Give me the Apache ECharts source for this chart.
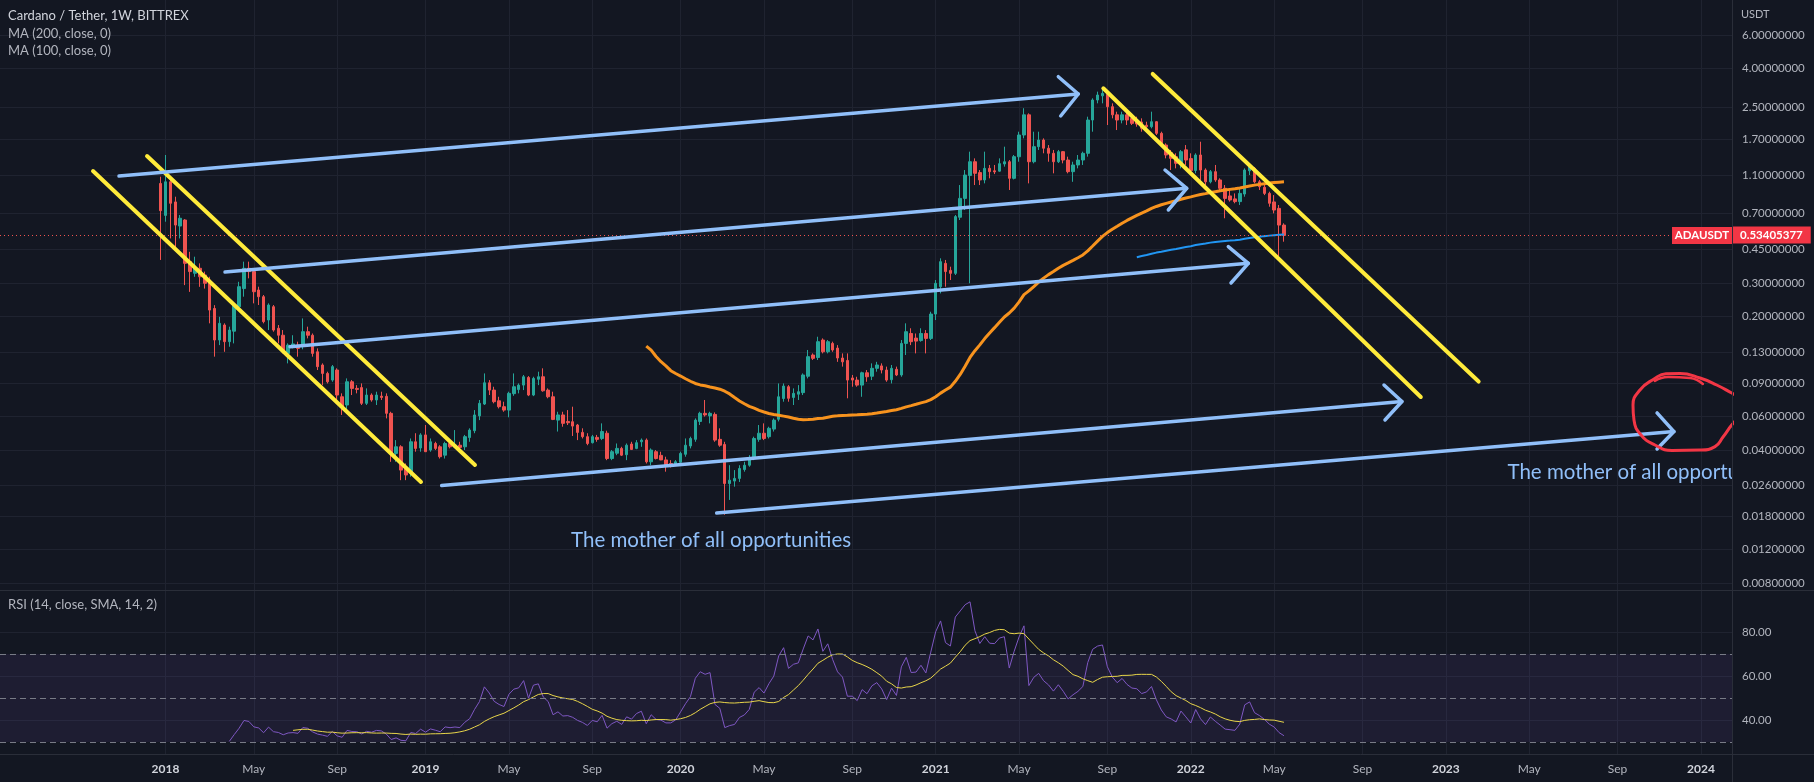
<!DOCTYPE html>
<html><head><meta charset="utf-8">
<script src="https://cdn.jsdelivr.net/npm/echarts@6/dist/echarts.min.js"></script>
<style>html,body{margin:0;padding:0;background:#131722;overflow:hidden}#c{width:1814px;height:782px}</style>
</head><body><div id="c"></div>
<script>
// Weekly bars: index 0 = week of 2017-12-25 (week offset -1 from 2018-01-01)
const firstWeekOffset = -1;
const opens = [1.00,0.68,1.02,0.80,0.598,0.643,0.389,0.338,0.359,0.331,0.3116,0.221,0.151,0.181,0.148,0.168,0.2257,0.281,0.359,0.345,0.2762,0.2548,0.1922,0.2257,0.174,0.160,0.1285,0.1392,0.142,0.140,0.167,0.160,0.131,0.1117,0.1009,0.0931,0.1051,0.0761,0.0689,0.0912,0.0842,0.085,0.0703,0.0777,0.0732,0.0767,0.0765,0.0623,0.0384,0.0416,0.032,0.0302,0.0442,0.041,0.048,0.040,0.0433,0.0416,0.0376,0.0433,0.0416,0.0424,0.0416,0.0465,0.0505,0.0604,0.0697,0.0901,0.0825,0.0725,0.0675,0.0648,0.079,0.083,0.0876,0.0961,0.0777,0.094,0.0969,0.0825,0.0761,0.0574,0.0611,0.0565,0.0563,0.0541,0.0495,0.0470,0.0437,0.0466,0.046,0.049,0.0361,0.0385,0.0408,0.0378,0.0430,0.0408,0.0442,0.0451,0.0347,0.0392,0.0375,0.0355,0.0340,0.0333,0.0345,0.0380,0.0420,0.0455,0.0565,0.0623,0.0604,0.0615,0.0455,0.0428,0.0267,0.0275,0.0284,0.0316,0.0333,0.0361,0.0455,0.049,0.047,0.0515,0.058,0.0745,0.0859,0.0755,0.0785,0.0800,0.0975,0.126,0.1222,0.151,0.131,0.145,0.137,0.1215,0.118,0.0955,0.0931,0.0876,0.1017,0.0975,0.1073,0.1105,0.1051,0.0935,0.106,0.099,0.145,0.1634,0.1545,0.150,0.1634,0.154,0.2066,0.2874,0.381,0.350,0.3377,0.665,0.835,1.100,1.30,1.14,1.043,1.20,1.165,1.16,1.265,1.30,1.064,1.38,1.795,2.29,1.30,1.559,1.690,1.53,1.439,1.30,1.468,1.327,1.153,1.25,1.327,1.439,2.151,2.739,2.88,2.93,2.527,2.29,2.151,2.29,2.19,2.12,2.10,2.02,1.984,2.108,1.831,1.59,1.45,1.38,1.26,1.50,1.35,1.17,1.41,1.176,1.02,1.153,1.043,0.943,0.86,0.83,0.803,0.88,1.165,1.20,1.02,0.955,0.887,0.80,0.74,0.605];
const highs = [1.085,1.41,1.085,0.852,0.683,0.65,0.438,0.413,0.381,0.345,0.3243,0.230,0.1999,0.1847,0.1774,0.2351,0.305,0.389,0.389,0.352,0.2874,0.260,0.2351,0.2304,0.181,0.1703,0.145,0.160,0.148,0.196,0.1774,0.1634,0.1365,0.1139,0.103,0.1117,0.1073,0.0793,0.095,0.0931,0.0876,0.0894,0.0842,0.0793,0.0809,0.0809,0.0793,0.0635,0.0451,0.0424,0.034,0.046,0.049,0.049,0.0541,0.046,0.0442,0.0424,0.0442,0.0442,0.0509,0.0442,0.048,0.052,0.0648,0.0732,0.1009,0.0931,0.0859,0.0761,0.0717,0.0809,0.1009,0.0894,0.099,0.0977,0.0969,0.103,0.1073,0.0842,0.0809,0.0635,0.0635,0.0648,0.0675,0.0548,0.052,0.049,0.048,0.048,0.0552,0.0505,0.0400,0.0433,0.0416,0.0433,0.0442,0.0451,0.046,0.046,0.0408,0.0400,0.0392,0.0369,0.0354,0.0354,0.0392,0.046,0.047,0.0586,0.0635,0.0732,0.0635,0.063,0.052,0.0442,0.0333,0.0314,0.0333,0.0347,0.0376,0.047,0.0541,0.0552,0.053,0.0586,0.0894,0.0894,0.0876,0.0842,0.0876,0.1009,0.1339,0.1285,0.1571,0.154,0.151,0.148,0.142,0.1285,0.1285,0.099,0.0969,0.103,0.1051,0.1139,0.116,0.1139,0.1095,0.1117,0.1095,0.151,0.1847,0.174,0.1634,0.174,0.1703,0.2125,0.3116,0.405,0.397,0.366,0.683,0.981,1.176,1.468,1.354,1.176,1.468,1.25,1.25,1.354,1.559,1.327,1.41,1.868,2.48,2.331,1.868,1.868,1.724,1.59,1.498,1.498,1.48,1.382,1.30,1.41,1.468,2.239,2.795,3.03,3.09,2.97,2.631,2.379,2.379,2.379,2.331,2.239,2.195,2.108,2.379,2.12,1.868,1.623,1.498,1.439,1.498,1.59,1.439,1.439,1.655,1.20,1.176,1.25,1.064,0.981,0.943,0.887,0.943,1.20,1.25,1.22,1.043,0.981,0.905,0.869,0.771,0.618];
const lows = [0.397,0.63,0.515,0.447,0.515,0.293,0.270,0.324,0.287,0.281,0.1847,0.1235,0.142,0.131,0.1392,0.145,0.221,0.2548,0.318,0.2351,0.2304,0.1847,0.1703,0.167,0.145,0.1285,0.1139,0.1365,0.1235,0.135,0.154,0.1235,0.1051,0.0876,0.0894,0.0912,0.0732,0.0611,0.0623,0.0777,0.0793,0.0689,0.0689,0.0717,0.0689,0.0732,0.0586,0.0347,0.0347,0.0278,0.0278,0.029,0.0392,0.0392,0.0392,0.0392,0.0400,0.0361,0.0361,0.0408,0.041,0.0400,0.0400,0.0442,0.049,0.0574,0.0689,0.0777,0.0703,0.0661,0.0635,0.0594,0.077,0.0793,0.0825,0.0767,0.0767,0.0876,0.0809,0.0747,0.0574,0.0500,0.0530,0.0541,0.0474,0.0451,0.046,0.0424,0.0433,0.0442,0.0451,0.0354,0.0354,0.0376,0.0372,0.0354,0.0400,0.0404,0.0416,0.0340,0.0333,0.0357,0.0354,0.0308,0.0324,0.0330,0.0340,0.0369,0.0408,0.0442,0.0541,0.0599,0.0552,0.0442,0.0416,0.0183,0.0219,0.0257,0.0272,0.0308,0.0327,0.0354,0.0442,0.0451,0.046,0.0500,0.0565,0.0717,0.0717,0.0689,0.0732,0.0777,0.095,0.1186,0.1186,0.1285,0.1285,0.131,0.116,0.1095,0.0747,0.0859,0.0859,0.0761,0.0912,0.0931,0.103,0.1009,0.0912,0.0894,0.0977,0.0969,0.126,0.142,0.1285,0.148,0.1285,0.151,0.1922,0.2651,0.2874,0.3116,0.331,0.643,0.7255,0.2995,0.981,0.981,1.001,1.064,1.12,1.153,1.225,0.924,1.05,1.30,1.724,1.001,1.275,1.498,1.439,1.30,1.130,1.28,1.275,1.130,1.02,1.20,1.25,1.382,1.868,2.631,2.631,2.025,2.195,1.906,2.066,2.025,2.025,1.984,1.868,1.92,1.945,1.795,1.559,1.354,1.176,1.20,1.20,1.25,1.13,1.130,1.043,0.981,1.001,1.02,0.905,0.657,0.803,0.787,0.771,0.852,1.107,1.001,0.924,0.869,0.755,0.697,0.413,0.495];
const closes = [0.72,1.02,0.787,0.605,0.657,0.381,0.345,0.359,0.324,0.2995,0.2168,0.151,0.1847,0.148,0.1703,0.230,0.2874,0.359,0.345,0.2706,0.2548,0.1885,0.2304,0.1703,0.160,0.131,0.142,0.144,0.1365,0.167,0.160,0.1285,0.1095,0.1009,0.0912,0.1095,0.0777,0.0675,0.0912,0.0842,0.0832,0.0703,0.0777,0.0732,0.0777,0.0755,0.0623,0.0384,0.0416,0.0314,0.0296,0.0442,0.0408,0.048,0.0392,0.0442,0.0408,0.0369,0.0433,0.0416,0.0424,0.0413,0.0470,0.0509,0.0611,0.0703,0.0901,0.0825,0.0717,0.0675,0.0648,0.0793,0.0859,0.0876,0.0969,0.0777,0.095,0.0969,0.0818,0.0761,0.0579,0.0611,0.0552,0.0556,0.0534,0.0495,0.0470,0.0433,0.0470,0.0455,0.0500,0.0361,0.0392,0.0408,0.0376,0.0424,0.0403,0.0437,0.0451,0.0347,0.0400,0.0361,0.0355,0.0333,0.0333,0.0347,0.0384,0.0424,0.046,0.0574,0.0623,0.0611,0.0623,0.0451,0.0424,0.0267,0.0278,0.0284,0.032,0.0333,0.0361,0.046,0.049,0.046,0.052,0.0574,0.0761,0.0866,0.0747,0.0793,0.0809,0.099,0.1235,0.121,0.148,0.131,0.148,0.1339,0.1215,0.116,0.0931,0.0931,0.0876,0.1017,0.0969,0.1073,0.1117,0.1051,0.0931,0.1073,0.099,0.145,0.167,0.148,0.149,0.1634,0.154,0.2066,0.2995,0.389,0.345,0.3377,0.670,0.835,1.107,1.30,1.130,1.043,1.20,1.153,1.15,1.27,1.30,1.064,1.382,1.795,2.29,1.30,1.559,1.690,1.53,1.439,1.30,1.468,1.327,1.153,1.25,1.327,1.439,2.151,2.739,2.91,2.968,2.527,2.29,2.151,2.29,2.151,2.066,2.05,1.945,1.984,2.108,1.831,1.59,1.41,1.354,1.275,1.468,1.327,1.17,1.41,1.176,1.02,1.153,1.043,0.943,0.835,0.819,0.803,0.887,1.176,1.225,1.02,0.962,0.887,0.787,0.7255,0.605,0.53405377];

// axis ticks
const timeTickWeeks = [0,18,35,53,70,87,105,122,140,157,174,192,209,226,244,261,278,296,313];
const timeTickLabels = ['2018','May','Sep','2019','May','Sep','2020','May','Sep','2021','May','Sep','2022','May','Sep','2023','May','Sep','2024'];
const priceTicks = [6,4,2.5,1.7,1.1,0.7,0.45,0.3,0.2,0.13,0.09,0.06,0.04,0.026,0.018,0.012,0.008];
const rsiTicks = [40,60,80];
const rsiLevels = [70,50,30];

// drawings: [weekOffset, price]
const yellowLines = [
  [[-3.77,1.393],[63.09,0.0334]],
  [[-14.78,1.162],[52.08,0.0272]],
  [[201.24,3.75],[267.68,0.0915]],
  [[191.17,3.155],[255.89,0.0759]]
];
const blueLines = [
  [[-9.48,1.094],[186.07,2.945]],
  [[12.13,0.3433],[208.17,0.943]],
  [[25.38,0.1393],[220.73,0.3814]],
  [[56.30,0.02607],[252.05,0.0719]],
  [[112.36,0.0187],[307.5,0.050]]
];
const blueArrowHeads = [
  [[182.0,3.628],[186.07,2.945],[182.48,2.258]],
  [[203.75,1.176],[208.17,0.943],[204.42,0.7257]],
  [[216.65,0.466],[220.73,0.3814],[217.2,0.3006]],
  [[248.39,0.0877],[252.05,0.0719],[248.59,0.0575]],
  [[304.05,0.0626],[307.5,0.050],[304.05,0.0405]]
];
const redStroke = [[322,0.073],[319.27,0.0796],[316.21,0.0877],[312.81,0.0954],[308.73,0.1008],[305.87,0.1006],[303.43,0.0943],[300.57,0.0826],[299.15,0.0689],[299.35,0.0575],[300.78,0.048],[303.63,0.0425],[307.10,0.0398],[312.81,0.0400],[315.87,0.0417],[317.5,0.0468],[319.27,0.0541],[322,0.0649]];
const redHook = [[303.6,0.0921],[306.3,0.0966],[310.8,0.0954],[313.4,0.0888]];
const textNotes = [
  {text:'The mother of all opportunities', at:[82.66,0.0135]},
  {text:'The mother of all opportunities', at:[273.56,0.0307]}
];

const W0 = -33.74, W1 = 319.33;
const LMIN = -2.1319, LMAX = 0.962;
const L = v => Math.log10(v);
const weeks = closes.map((_, i) => i + firstWeekOffset);

function sma(arr, n) {
  const out = [];
  for (let i = n - 1; i < arr.length; i++) {
    let s = 0; for (let j = i - n + 1; j <= i; j++) s += arr[j];
    out.push([i, s / n]);
  }
  return out;
}
function rsi(cl, n) {
  const out = [];
  let ag = 0, al = 0;
  for (let i = 1; i <= n; i++) { const d = cl[i] - cl[i-1]; ag += Math.max(d,0); al += Math.max(-d,0); }
  ag /= n; al /= n;
  out.push([n, al === 0 ? 100 : 100 - 100/(1+ag/al)]);
  for (let i = n+1; i < cl.length; i++) {
    const d = cl[i] - cl[i-1];
    ag = (ag*(n-1) + Math.max(d,0))/n; al = (al*(n-1) + Math.max(-d,0))/n;
    out.push([i, al === 0 ? 100 : 100 - 100/(1+ag/al)]);
  }
  return out;
}
const ma200 = sma(closes, 200).map(([i,v]) => [weeks[i], L(v)]);
const ma100 = sma(closes, 100).map(([i,v]) => [weeks[i], L(v)]);
const rsiRaw = rsi(closes, 14);
const rsiData = rsiRaw.map(([i,v]) => [weeks[i], v]);
const rsiMa = [];
for (let k = 13; k < rsiRaw.length; k++) {
  let s = 0; for (let j = k-13; j <= k; j++) s += rsiRaw[j][1];
  rsiMa.push([weeks[rsiRaw[k][0]], s/14]);
}

const FONT = 'Lato, "Open Sans", sans-serif';
const gridColor = '#1f2330';
const lastPrice = closes[closes.length-1];

function drawLine(pts, color, width, z, smooth) {
  return {type:'line', xAxisIndex:0, yAxisIndex:0, data: pts.map(p => [p[0], L(p[1])]),
    symbol:'none', silent:true, smooth: !!smooth, clip:true, z: z,
    lineStyle:{color, width, cap:'round', join:'round'}};
}

const series = [];
series.push({
  type:'candlestick', xAxisIndex:0, yAxisIndex:0, clip:false, z:2, barWidth:3,
  encode:{x:0, y:[1,2,3,4]},
  data: closes.map((c,i) => [weeks[i], L(opens[i]), L(c), L(lows[i]), L(highs[i])]),
  itemStyle:{color:'#26a69a', color0:'#ef5350', borderColor:'#26a69a', borderColor0:'#ef5350', borderWidth:1},
  markLine:{silent:true, symbol:'none', animation:false,
    lineStyle:{color:'#ef5350', type:[1,3], width:1},
    label:{show:true, position:'end', distance:0, formatter: () => lastPrice.toFixed(8),
      backgroundColor:'#f23645', color:'#ffffff', fontFamily:FONT, fontSize:11.5, fontWeight:'bold', padding:[3,8,2,8]},
    data:[{yAxis: L(lastPrice)}]},
  markPoint:{silent:true, animation:false,
    data:[{coord:[W1, L(lastPrice)], symbol:'rect', symbolSize:[60,17], symbolOffset:[-30,0],
      itemStyle:{color:'#f23645'},
      label:{show:true, position:'inside', formatter:'ADAUSDT', color:'#ffffff', fontFamily:FONT, fontSize:11.5, fontWeight:'bold'}}]}
});
series.push({type:'line', xAxisIndex:0, yAxisIndex:0, data: ma100, symbol:'none', silent:true, z:3,
  lineStyle:{color:'#f7931e', width:3}});
series.push({type:'line', xAxisIndex:0, yAxisIndex:0, data: ma200, symbol:'none', silent:true, z:3,
  lineStyle:{color:'#2196f3', width:2}});
yellowLines.forEach(l => series.push(drawLine(l, '#ffeb3b', 4, 5)));
blueLines.forEach(l => series.push(drawLine(l, '#90bff9', 3.5, 5)));
blueArrowHeads.forEach(l => series.push(drawLine(l, '#90bff9', 3.5, 5)));
series.push(drawLine(redStroke, '#f23645', 3, 5, 0.5));
series.push(drawLine(redHook, '#f23645', 2.5, 5, 0.5));
textNotes.forEach(t => series.push({type:'custom', xAxisIndex:0, yAxisIndex:0, clip:true, silent:true, z:6,
  data:[[t.at[0], L(t.at[1])]],
  renderItem: (params, api) => {
    const pt = api.coord([api.value(0), api.value(1)]);
    return {type:'text', x:pt[0], y:pt[1], style:{text:t.text, fill:'#90bff9', font:'20.5px ' + FONT, verticalAlign:'middle', align:'left'}};
  }}));

series.push({type:'line', xAxisIndex:1, yAxisIndex:1, data: rsiData, symbol:'none', silent:true, z:3,
  lineStyle:{color:'#7e57c2', width:1},
  markArea:{silent:true, itemStyle:{color:'rgba(126,87,194,0.10)'}, data:[[{yAxis:30},{yAxis:70}]]},
  markLine:{silent:true, symbol:'none', label:{show:false}, lineStyle:{color:'#787b86', type:[6,4], width:1},
    data: rsiLevels.map(v => ({yAxis:v}))}});
series.push({type:'line', xAxisIndex:1, yAxisIndex:1, data: rsiMa, symbol:'none', silent:true, z:4,
  lineStyle:{color:'#e9d64a', width:1}});

const axisLabelStyle = {color:'#b2b5be', fontFamily:FONT, fontSize:11.5};

const option = {
  backgroundColor:'#131722',
  animation:false,
  grid:[
    {left:0, right:82, top:0, height:590},
    {left:0, right:82, top:591, height:163}
  ],
  xAxis:[
    {type:'value', gridIndex:0, min:W0, max:W1,
      axisLine:{show:false}, axisTick:{show:false, customValues:timeTickWeeks},
      axisLabel:{show:false, customValues:timeTickWeeks},
      splitLine:{show:true, lineStyle:{color:gridColor, width:1}}},
    {type:'value', gridIndex:1, min:W0, max:W1,
      axisLine:{show:false}, axisTick:{show:false, customValues:timeTickWeeks},
      axisLabel:{show:true, customValues:timeTickWeeks, margin:9, color:'#b2b5be', fontFamily:FONT, fontSize:12,
        formatter: v => { const i = timeTickWeeks.indexOf(Math.round(v)); if (i < 0) return ''; const s = timeTickLabels[i]; return /^\d{4}$/.test(s) ? '{y|' + s + '}' : s; },
        rich:{y:{fontWeight:'bold', fontSize:12, color:'#d1d4dc', fontFamily:FONT}}},
      splitLine:{show:true, lineStyle:{color:gridColor, width:1}}}
  ],
  yAxis:[
    {type:'value', gridIndex:0, position:'right', min:LMIN, max:LMAX,
      axisLine:{show:false}, axisTick:{show:false, customValues:priceTicks.map(L)},
      axisLabel:Object.assign({show:true, customValues:priceTicks.map(L), margin:10,
        formatter: v => Math.pow(10, v).toFixed(8)}, axisLabelStyle),
      splitLine:{show:true, lineStyle:{color:gridColor, width:1}}},
    {type:'value', gridIndex:1, position:'right', min:24.55, max:98.64,
      axisLine:{show:false}, axisTick:{show:false, customValues:rsiTicks},
      axisLabel:Object.assign({show:true, customValues:rsiTicks, margin:10,
        formatter: v => v.toFixed(2)}, axisLabelStyle),
      splitLine:{show:true, lineStyle:{color:gridColor, width:1}}}
  ],
  graphic:[
    {type:'line', silent:true, z:10, shape:{x1:1732.5, y1:0, x2:1732.5, y2:782}, style:{stroke:'#2a2e39', lineWidth:1}},
    {type:'line', silent:true, z:10, shape:{x1:0, y1:590.5, x2:1814, y2:590.5}, style:{stroke:'#2a2e39', lineWidth:1}},
    {type:'line', silent:true, z:10, shape:{x1:0, y1:754.5, x2:1814, y2:754.5}, style:{stroke:'#2a2e39', lineWidth:1}},
    {type:'text', silent:true, z:10, x:8, y:16, style:{text:'Cardano / Tether, 1W, BITTREX', fill:'#d1d4dc', font:'13px ' + FONT, verticalAlign:'middle'}},
    {type:'text', silent:true, z:10, x:8, y:34, style:{text:'MA (200, close, 0)', fill:'#b2b5be', font:'13px ' + FONT, verticalAlign:'middle'}},
    {type:'text', silent:true, z:10, x:8, y:51, style:{text:'MA (100, close, 0)', fill:'#b2b5be', font:'13px ' + FONT, verticalAlign:'middle'}},
    {type:'text', silent:true, z:10, x:8, y:605, style:{text:'RSI (14, close, SMA, 14, 2)', fill:'#b2b5be', font:'13px ' + FONT, verticalAlign:'middle'}},
    {type:'text', silent:true, z:10, x:1741, y:14, style:{text:'USDT', fill:'#b2b5be', font:'11px ' + FONT, verticalAlign:'middle'}}
  ],
  series: series
};
const chart = echarts.init(document.getElementById('c'), null, {renderer:'canvas'});
chart.setOption(option);
</script>
</body></html>
